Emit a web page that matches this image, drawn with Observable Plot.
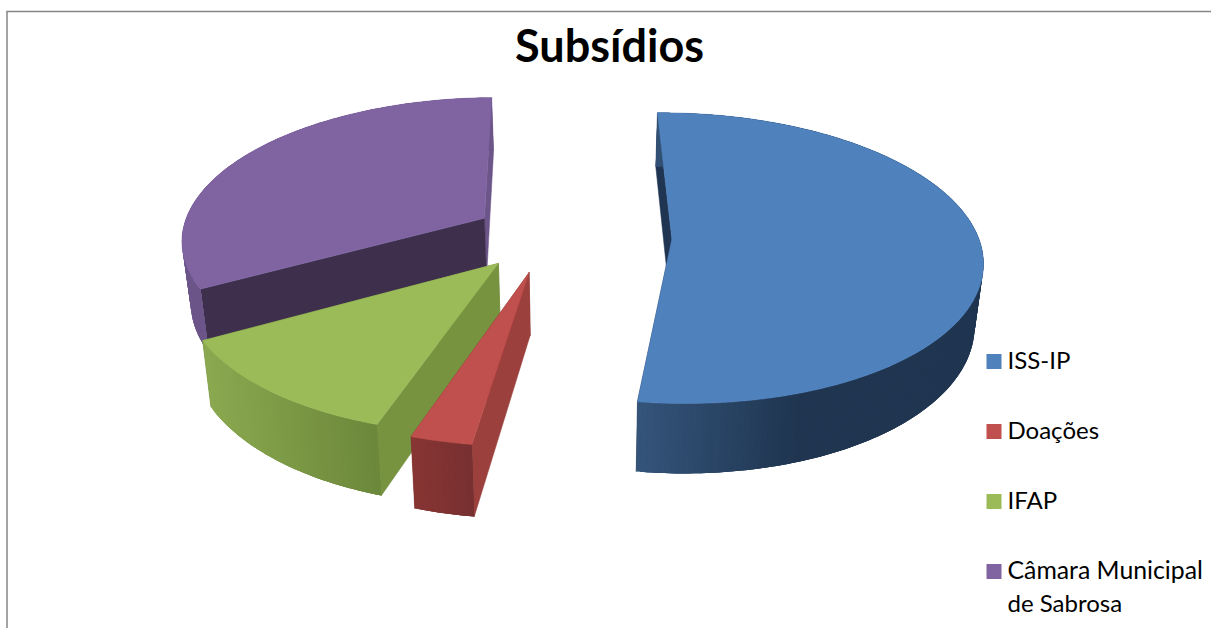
<!DOCTYPE html>
<html>
<head>
<meta charset="utf-8">
<style>html,body{margin:0;padding:0;background:#fff;overflow:hidden}svg{display:block}</style>
<script src="https://cdn.jsdelivr.net/npm/d3@7"></script>
<script src="https://cdn.jsdelivr.net/npm/@observablehq/plot@0.6"></script>
</head>
<body>
<script>
// Data
const categories = ["ISS-IP", "Doações", "IFAP", "Câmara Municipal de Sabrosa"];
const shares = [52.4, 2.8, 11.9, 32.9];
const legendLines = [["ISS-IP"], ["Doações"], ["IFAP"], ["Câmara Municipal", "de Sabrosa"]];
const titleText = "Subsídios";

// Styles
const topColors = ["#4f81bd", "#c0504d", "#9bbb59", "#8064a2"];
const startWall = ["#1f3552", "#9b403d", "#779340", "#3e2f4d"];
const endWall = ["#1f3552", "#7f3331", "#779340", "#6c5589"];
const arcLeft = ["#34547a", "#873533", "#8aa84f", "#6c5589"];
const arcRight = ["#1f3550", "#763030", "#6b873a", "#6c5589"];
const gradSpan = [[637, 800], [413, 474], [205, 380], [180, 490]];

// 3-D pie layout
const explode = [0.407, 0.262, 0.25, 0.25];
const radius = [1.01, 1, 1, 1];
const rotation = -0.8, W = 1211, H = 628;
const cx = 548, cy = 235, vx = 580, Rx = 303, Ry = 140.5, depth = 60.5, persp = 0.13, converge = 0.022;
const rad = d => d * Math.PI / 180;

function project(X, Y, h) {
  const s = 1 / (1 + persp * Y);
  return {x: vx + (cx - vx + X * Rx) * s * (1 - h * converge), y: cy + (-Y * Ry + h * depth) * s};
}

const total = d3.sum(shares);
let acc = rotation;
const slices = shares.map((v, i) => {
  const a0 = acc, a1 = acc + v / total * 360;
  acc = a1;
  const mid = rad((a0 + a1) / 2);
  return {i, a0, a1, ax: explode[i] * Math.sin(mid), ay: explode[i] * Math.cos(mid), r: radius[i]};
});
const rimPoint = (s, a, h) => project(s.ax + s.r * Math.sin(rad(a)), s.ay + s.r * Math.cos(rad(a)), h);
const apexPoint = (s, h) => project(s.ax, s.ay, h);
const closed = pts => [...pts, pts[0]];
const angles = s => d3.range(0, Math.ceil(s.a1 - s.a0) + 1).map(k => Math.min(s.a0 + k, s.a1));

function radialWall(s, a, h0, h1) {
  return closed([apexPoint(s, h0), rimPoint(s, a, h0), rimPoint(s, a, h1), apexPoint(s, h1)]);
}
// Each band overlaps the next one so no seams show; bands are painted in angle order
function arcWall(s) {
  const as = angles(s), out = [];
  const [g0, g1] = gradSpan[s.i];
  const col = d3.scaleLinear().domain([g0, g1]).range([arcLeft[s.i], arcRight[s.i]]).clamp(true);
  for (let k = as.length - 2; k >= 0; k--) {
    const end = Math.max(k - 2, 0);
    const top = [], bottom = [];
    for (let j = end; j <= k + 1; j++) { top.push(rimPoint(s, as[j], 0)); bottom.unshift(rimPoint(s, as[j], 1)); }
    const c = col((rimPoint(s, as[k], 0).x + rimPoint(s, as[k + 1], 0).x) / 2);
    closed([...top, ...bottom]).forEach(o => out.push({...o, q: k, c}));
  }
  return out;
}
const topFace = s => closed([apexPoint(s, 0), ...angles(s).map(a => rimPoint(s, a, 0))]);

const poly = (pts, color) => Plot.line(pts, {x: "x", y: "y", fill: () => color, stroke: () => color, strokeWidth: 0.5});

const marks = [];
marks.push(Plot.ruleY([11], {x1: 6.5, x2: W, stroke: "#868686", strokeWidth: 1.5}));
marks.push(Plot.ruleX([6.5], {y1: 11, y2: H, stroke: "#868686", strokeWidth: 1.5}));

// far to near: Câmara, ISS-IP, IFAP, Doações
for (const i of [3, 0, 2, 1]) {
  const s = slices[i];
  marks.push(poly(radialWall(s, s.a1, 0, 1), endWall[i]));
  marks.push(poly(radialWall(s, s.a0, 0, 1), startWall[i]));
  marks.push(Plot.line(arcWall(s), {x: "x", y: "y", z: "q", fill: "c", stroke: "none"}));
  marks.push(poly(topFace(s), topColors[i]));
}

// Title and legend
const font = "Lato, Carlito, Calibri, sans-serif";
marks.push(Plot.text([titleText], {x: () => 609, y: () => 47, text: d => d, fontSize: 45, fontWeight: 700, fontFamily: font, fill: "#000", textAnchor: "middle"}));
const rowY = [361, 431, 501, 571];
marks.push(Plot.dot(categories, {x: () => 993.5, y: (d, i) => rowY[i], symbol: "square", r: 8.46, fill: (d, i) => topColors[i], stroke: "none"}));
const legendRows = legendLines.flatMap((ls, i) => ls.map((t, j) => ({t, y: rowY[i] + j * 33, big: t.length > 12})));
marks.push(Plot.text(legendRows.filter(d => !d.big), {x: () => 1007, y: "y", text: "t", fontSize: 24, fontFamily: font, fill: "#000", textAnchor: "start"}));
marks.push(Plot.text(legendRows.filter(d => d.big), {x: () => 1007, y: "y", text: "t", fontSize: 24.8, fontFamily: font, fill: "#000", textAnchor: "start"}));

const chart = Plot.plot({
  width: W, height: H,
  margin: 0,
  x: {domain: [0, W], range: [0, W], axis: null},
  y: {domain: [0, H], range: [0, H], axis: null},
  color: {type: "identity"},
  marks
});
document.body.appendChild(chart);
</script>
</body>
</html>
